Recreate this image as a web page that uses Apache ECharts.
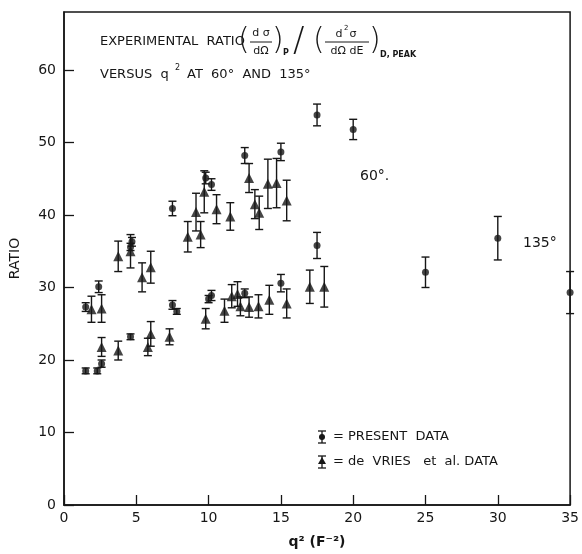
<!DOCTYPE html>
<html>
<head>
<meta charset="utf-8">
<script src="https://cdn.jsdelivr.net/npm/echarts@6/dist/echarts.min.js"></script>
<style>html,body{margin:0;padding:0;background:#fff}#c{width:582px;height:554px}</style>
</head>
<body>
<div id="c"></div>
<script>
// ---- data ----
// Present data (circles): q^2, ratio, error half-width
const presentQ   = [1.5, 2.3, 2.6, 4.6, 7.5, 7.8, 10.0, 10.2, 12.5, 15.0, 17.5, 25.0, 30.0, 35.0,
                    1.5, 2.4, 4.6, 4.7, 7.5, 9.8, 10.2, 12.5, 15.0, 17.5, 20.0];
const presentR   = [18.5, 18.5, 19.5, 23.2, 27.6, 26.7, 28.4, 28.9, 29.2, 30.6, 35.8, 32.1, 36.8, 29.3,
                    27.3, 30.1, 35.6, 36.3, 40.9, 45.1, 44.2, 48.2, 48.7, 53.8, 51.8];
const presentErr = [0.4, 0.4, 0.5, 0.4, 0.6, 0.4, 0.5, 0.7, 0.6, 1.2, 1.8, 2.1, 3.0, 2.9,
                    0.6, 0.8, 0.5, 0.6, 1.0, 0.8, 0.8, 1.1, 1.2, 1.5, 1.4];
// de Vries et al. data (triangles)
const devriesQ   = [1.9, 2.6, 2.6, 3.75, 3.75, 4.6, 5.4, 6.0, 5.8, 6.0, 7.3,
                    8.56, 9.13, 9.45, 9.7, 10.55, 11.5, 12.8, 13.2, 13.5, 14.1, 14.7, 15.4,
                    9.8, 11.1, 11.6, 12.0, 12.2, 12.8, 13.45, 14.2, 15.4, 17.0, 18.0];
const devriesR   = [27.0, 27.1, 21.8, 34.3, 21.3, 35.0, 31.4, 32.8, 21.8, 23.6, 23.2,
                    37.0, 40.4, 37.3, 43.2, 40.8, 39.8, 45.1, 41.5, 40.3, 44.3, 44.4, 42.0,
                    25.7, 26.8, 28.8, 29.1, 27.4, 27.3, 27.4, 28.3, 27.8, 30.1, 30.1];
const devriesErr = [1.8, 1.9, 1.3, 2.1, 1.3, 2.3, 2.0, 2.2, 1.2, 1.7, 1.1,
                    2.1, 2.6, 1.8, 2.9, 2.0, 1.9, 2.0, 2.0, 2.3, 3.4, 3.4, 2.8,
                    1.4, 1.6, 1.6, 1.7, 1.3, 1.4, 1.6, 2.0, 2.0, 2.3, 2.8];
const xTicks = [0, 5, 10, 15, 20, 25, 30, 35];
const yTicks = [0, 10, 20, 30, 40, 50, 60];

const INK = '#161616';
const FONT = 'DejaVu Sans';

const present = presentQ.map((q, i) => [q, presentR[i], presentErr[i]]);
const devries = devriesQ.map((q, i) => [q, devriesR[i], devriesErr[i]]);

function renderErr(params, api) {
  const x = api.value(0), y = api.value(1), e = api.value(2);
  const t = api.coord([x, y + e]);
  const b = api.coord([x, y - e]);
  const hw = 4;
  const st = { stroke: INK, lineWidth: 1.4 };
  return { type: 'group', children: [
    { type: 'line', shape: { x1: t[0], y1: t[1], x2: b[0], y2: b[1] }, style: st },
    { type: 'line', shape: { x1: t[0] - hw, y1: t[1], x2: t[0] + hw, y2: t[1] }, style: st },
    { type: 'line', shape: { x1: b[0] - hw, y1: b[1], x2: b[0] + hw, y2: b[1] }, style: st }
  ]};
}

const chart = echarts.init(document.getElementById('c'));
const txt = (x, y, s, size, extra) => ({
  type: 'text', x: x, y: y,
  style: Object.assign({ text: s, font: (size || 13) + 'px "' + FONT + '"', fill: INK, verticalAlign: 'middle' }, extra || {})
});
const ln = (x1, y1, x2, y2, w) => ({ type: 'line', shape: { x1, y1, x2, y2 }, style: { stroke: INK, lineWidth: w || 1 } });

chart.setOption({
  animation: false,
  backgroundColor: '#fff',
  grid: { left: 61, right: 9, top: 12, bottom: 45, show: true, borderColor: INK, borderWidth: 1.5 },
  xAxis: {
    type: 'value', min: xTicks[0], max: xTicks[xTicks.length - 1], interval: 5,
    axisLine: { lineStyle: { color: INK, width: 1.5 } },
    axisTick: { inside: true, length: 10, lineStyle: { color: INK, width: 1.3 } },
    axisLabel: { color: INK, fontSize: 14, fontFamily: FONT, margin: 6 },
    splitLine: { show: false },
    name: 'q² (F⁻²)', nameLocation: 'middle', nameGap: 30,
    nameTextStyle: { color: INK, fontSize: 14, fontFamily: FONT, fontWeight: 'bold' }
  },
  yAxis: {
    type: 'value', min: 0, max: 68, interval: 10,
    axisLine: { lineStyle: { color: INK, width: 1.5 } },
    axisTick: { inside: true, length: 10, lineStyle: { color: INK, width: 1.3 } },
    axisLabel: { color: INK, fontSize: 14, fontFamily: FONT, margin: 8, showMaxLabel: false,
      formatter: v => (yTicks.indexOf(v) >= 0 ? String(v) : '') },
    splitLine: { show: false },
    name: 'RATIO', nameLocation: 'middle', nameGap: 42,
    nameTextStyle: { color: INK, fontSize: 14, fontFamily: FONT }
  },
  series: [
    { type: 'custom', name: 'present-err', renderItem: renderErr, data: present, z: 2 },
    { type: 'custom', name: 'devries-err', renderItem: renderErr, data: devries, z: 2 },
    { type: 'scatter', name: 'PRESENT DATA', data: present, symbol: 'circle', symbolSize: 7,
      itemStyle: { color: INK }, z: 3 },
    { type: 'scatter', name: 'de VRIES et al. DATA', data: devries, symbol: 'triangle', symbolSize: 10,
      itemStyle: { color: INK }, z: 3 }
  ],
  graphic: [
    // title line 1
    txt(100, 42, 'EXPERIMENTAL  RATIO', 13),
    txt(238, 41, '(', 30, { font: '200 30px "' + FONT + '"' }),
    txt(261, 33, 'd σ', 11, { align: 'center' }),
    ln(250, 42, 272, 42, 1),
    txt(261, 51, 'dΩ', 11, { align: 'center' }),
    txt(272, 41, ')', 30, { font: '200 30px "' + FONT + '"' }),
    txt(283, 53, 'P', 8, { font: 'bold 8px "' + FONT + '"' }),
    txt(293, 42, '/', 34, { font: '200 34px "' + FONT + '"' }),
    txt(313, 41, '(', 30, { font: '200 30px "' + FONT + '"' }),
    txt(339, 34, 'd', 11, { align: 'center' }),
    txt(344, 28, '2', 7),
    txt(353, 34, 'σ', 11, { align: 'center' }),
    ln(325, 42, 369, 42, 1),
    txt(347, 51, 'dΩ dE', 11, { align: 'center' }),
    txt(369, 41, ')', 30, { font: '200 30px "' + FONT + '"' }),
    txt(380, 55, 'D, PEAK', 8, { font: 'bold 8px "' + FONT + '"' }),
    // title line 2
    txt(100, 75, 'VERSUS  q', 13),
    txt(175, 68, '2', 8),
    txt(187, 75, 'AT  60°  AND  135°', 13),
    // curve labels
    txt(360, 176, '60°.', 14),
    txt(523, 243, '135°', 14),
    // legend
    ln(322, 431, 322, 443, 1.3), ln(318, 431, 326, 431, 1.3), ln(318, 443, 326, 443, 1.3),
    { type: 'circle', shape: { cx: 322, cy: 437, r: 3 }, style: { fill: INK } },
    txt(333, 437, '= PRESENT  DATA', 13),
    ln(322, 456, 322, 468, 1.3), ln(318, 456, 326, 456, 1.3), ln(318, 468, 326, 468, 1.3),
    { type: 'polygon', shape: { points: [[322, 457], [326, 464], [318, 464]] }, style: { fill: INK } },
    txt(333, 462, '= de  VRIES   et  al. DATA', 13)
  ]
});
</script>
</body>
</html>
